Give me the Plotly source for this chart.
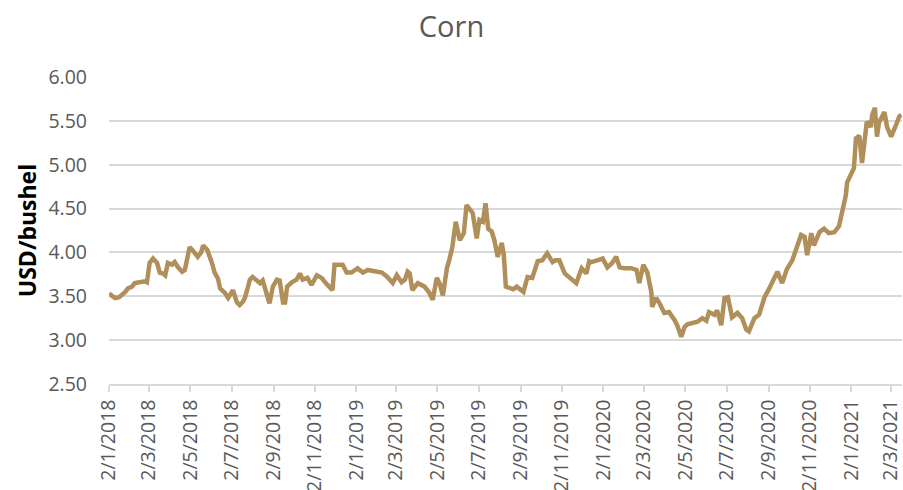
import plotly.graph_objects as go

# Corn price, USD per bushel
dates = [
    "2018-01-02", "2018-01-06", "2018-01-11", "2018-01-17", "2018-01-21", "2018-01-26", "2018-01-30",
    "2018-02-05", "2018-02-09", "2018-02-15", "2018-02-20", "2018-02-24", "2018-02-27",
    "2018-03-03", "2018-03-08", "2018-03-14", "2018-03-18", "2018-03-23", "2018-03-26", "2018-03-30",
    "2018-04-05", "2018-04-09", "2018-04-14", "2018-04-20", "2018-04-24", "2018-04-27",
    "2018-05-01", "2018-05-06", "2018-05-10", "2018-05-13", "2018-05-18", "2018-05-21", "2018-05-27", "2018-05-31",
    "2018-06-03", "2018-06-07", "2018-06-12", "2018-06-15", "2018-06-19", "2018-06-22", "2018-06-27",
    "2018-07-01", "2018-07-04", "2018-07-10", "2018-07-14", "2018-07-19", "2018-07-22", "2018-07-26", "2018-07-29",
    "2018-08-02", "2018-08-08", "2018-08-13", "2018-08-17", "2018-08-20", "2018-08-25", "2018-08-27",
    "2018-09-01", "2018-09-07", "2018-09-11", "2018-09-16", "2018-09-19", "2018-09-22", "2018-09-29",
    "2018-10-06", "2018-10-11", "2018-10-15", "2018-10-22", "2018-10-28",
    "2018-11-05", "2018-11-12", "2018-11-18", "2018-11-24", "2018-11-28",
    "2018-12-01", "2018-12-09", "2018-12-13", "2018-12-19", "2018-12-26",
    "2019-01-04", "2019-01-12", "2019-01-19", "2019-01-29",
    "2019-02-09", "2019-02-17", "2019-02-25",
    "2019-03-03", "2019-03-10", "2019-03-15", "2019-03-19", "2019-03-22", "2019-03-26",
    "2019-04-03", "2019-04-13", "2019-04-20", "2019-04-25",
    "2019-05-01", "2019-05-05", "2019-05-10", "2019-05-16", "2019-05-20", "2019-05-24", "2019-05-29",
    "2019-06-04", "2019-06-10", "2019-06-14", "2019-06-18", "2019-06-23", "2019-06-29",
    "2019-07-03", "2019-07-08", "2019-07-12", "2019-07-16", "2019-07-21", "2019-07-25", "2019-07-30",
    "2019-08-05", "2019-08-08", "2019-08-11", "2019-08-16", "2019-08-22", "2019-08-27", "2019-08-31",
    "2019-09-06", "2019-09-12", "2019-09-19", "2019-09-27",
    "2019-10-04", "2019-10-11", "2019-10-14", "2019-10-19", "2019-10-23", "2019-10-29",
    "2019-11-06", "2019-11-13", "2019-11-17", "2019-11-23",
    "2019-12-01", "2019-12-08", "2019-12-12", "2019-12-15", "2019-12-24",
    "2020-01-01", "2020-01-08", "2020-01-15", "2020-01-21", "2020-01-26",
    "2020-02-02", "2020-02-12", "2020-02-20", "2020-02-24",
    "2020-03-01", "2020-03-07", "2020-03-13", "2020-03-14", "2020-03-20", "2020-03-25",
    "2020-04-01", "2020-04-08", "2020-04-16", "2020-04-20", "2020-04-26",
    "2020-05-01", "2020-05-05", "2020-05-11", "2020-05-20", "2020-05-27",
    "2020-06-02", "2020-06-06", "2020-06-14", "2020-06-18", "2020-06-24", "2020-06-29",
    "2020-07-04", "2020-07-10", "2020-07-18", "2020-07-25", "2020-07-31",
    "2020-08-04", "2020-08-12", "2020-08-19", "2020-08-27",
    "2020-09-03", "2020-09-07", "2020-09-15", "2020-09-22", "2020-09-29",
    "2020-10-07", "2020-10-13", "2020-10-20", "2020-10-25", "2020-10-29",
    "2020-11-04", "2020-11-08", "2020-11-16", "2020-11-23", "2020-11-30",
    "2020-12-08", "2020-12-15", "2020-12-20", "2020-12-25", "2020-12-27",
    "2021-01-02", "2021-01-06", "2021-01-09", "2021-01-14", "2021-01-18", "2021-01-21", "2021-01-25", "2021-01-31",
    "2021-02-02", "2021-02-06", "2021-02-09", "2021-02-12", "2021-02-17", "2021-02-20", "2021-02-24",
    "2021-03-02", "2021-03-09", "2021-03-14", "2021-03-17",
]

prices = [
    3.53, 3.50, 3.48, 3.49, 3.51, 3.55, 3.59,
    3.61, 3.65, 3.66, 3.67, 3.67, 3.66,
    3.88, 3.93, 3.88, 3.77, 3.76, 3.74, 3.88,
    3.86, 3.89, 3.83, 3.78, 3.80, 3.89,
    4.06, 4.02, 3.98, 3.95, 4.00, 4.08, 4.03, 3.95,
    3.88, 3.77, 3.70, 3.59, 3.57, 3.54, 3.48,
    3.53, 3.57, 3.43, 3.40, 3.44, 3.49, 3.60, 3.69,
    3.72, 3.69, 3.65, 3.68, 3.61, 3.46, 3.42,
    3.61, 3.69, 3.68, 3.43, 3.43, 3.61, 3.66,
    3.69, 3.76, 3.69, 3.71, 3.63,
    3.74, 3.71, 3.65, 3.59, 3.57,
    3.86, 3.86, 3.86, 3.77, 3.77,
    3.82, 3.77, 3.80, 3.78,
    3.77, 3.72, 3.65,
    3.74, 3.66, 3.69, 3.78, 3.76, 3.57,
    3.65, 3.61, 3.54, 3.46,
    3.71, 3.65, 3.51, 3.82, 3.93, 4.06, 4.35,
    4.14, 4.22, 4.54, 4.50, 4.45, 4.16,
    4.37, 4.35, 4.56, 4.27, 4.24, 4.14, 3.95,
    4.11, 3.97, 3.61, 3.60, 3.58, 3.61, 3.59,
    3.55, 3.72, 3.71, 3.90,
    3.91, 3.99, 3.95, 3.89, 3.91, 3.91,
    3.76, 3.72, 3.70, 3.65,
    3.82, 3.76, 3.90, 3.89, 3.91,
    3.93, 3.83, 3.88, 3.95, 3.83,
    3.82, 3.82, 3.80, 3.65,
    3.86, 3.77, 3.54, 3.38, 3.48, 3.42,
    3.31, 3.32, 3.23, 3.17, 3.04,
    3.15, 3.18, 3.19, 3.21, 3.25,
    3.22, 3.32, 3.29, 3.34, 3.17, 3.48,
    3.49, 3.26, 3.31, 3.25, 3.12,
    3.10, 3.25, 3.29, 3.49,
    3.59, 3.66, 3.78, 3.65, 3.81,
    3.91, 4.05, 4.20, 4.18, 3.97,
    4.22, 4.08, 4.23, 4.27, 4.22,
    4.23, 4.30, 4.48, 4.65, 4.80,
    4.90, 4.96, 5.30, 5.33, 5.02, 5.20, 5.49, 5.43,
    5.57, 5.65, 5.32, 5.48, 5.57, 5.60, 5.43,
    5.32, 5.45, 5.55, 5.57,
]

tick_dates = [
    "2018-01-02", "2018-03-02", "2018-05-02", "2018-07-02", "2018-09-02", "2018-11-02",
    "2019-01-02", "2019-03-02", "2019-05-02", "2019-07-02", "2019-09-02", "2019-11-02",
    "2020-01-02", "2020-03-02", "2020-05-02", "2020-07-02", "2020-09-02", "2020-11-02",
    "2021-01-02", "2021-03-02",
]
tick_labels = [
    "2/1/2018", "2/3/2018", "2/5/2018", "2/7/2018", "2/9/2018", "2/11/2018",
    "2/1/2019", "2/3/2019", "2/5/2019", "2/7/2019", "2/9/2019", "2/11/2019",
    "2/1/2020", "2/3/2020", "2/5/2020", "2/7/2020", "2/9/2020", "2/11/2020",
    "2/1/2021", "2/3/2021",
]

y_ticks = [2.5, 3.0, 3.5, 4.0, 4.5, 5.0, 5.5, 6.0]

GREY = "#595959"
GRID = "#D9D9D9"
FONT = "Open Sans"

fig = go.Figure(
    go.Scatter(
        x=dates,
        y=prices,
        mode="lines",
        line=dict(color="#B08F5A", width=4.5),
        showlegend=False,
        hoverinfo="x+y",
    )
)

fig.update_layout(
    width=903,
    height=490,
    margin=dict(l=109, r=1, t=77, b=106),
    paper_bgcolor="white",
    plot_bgcolor="white",
    font=dict(family=FONT, color=GREY),
    title=dict(
        text="Corn",
        x=0.5,
        xanchor="center",
        y=0.945,
        yanchor="middle",
        font=dict(family=FONT, size=29, color=GREY),
    ),
    xaxis=dict(
        type="date",
        range=["2018-01-02", "2021-03-18"],
        tickmode="array",
        tickvals=tick_dates,
        ticktext=tick_labels,
        tickangle=-90,
        tickfont=dict(family=FONT, size=19.5, color=GREY),
        ticklabeloverflow="allow",
        showgrid=False,
        showline=True,
        linecolor=GRID,
        linewidth=1.5,
        ticks="outside",
        ticklen=6,
        tickcolor=GRID,
        tickwidth=1.5,
        zeroline=False,
        automargin=False,
    ),
    yaxis=dict(
        range=[2.5, 6.0],
        tickmode="array",
        tickvals=y_ticks,
        tickformat=".2f",
        tickfont=dict(family=FONT, size=19.5, color=GREY),
        showgrid=True,
        gridcolor=GRID,
        gridwidth=1.5,
        zeroline=False,
        showline=False,
        ticks="",
        ticklabelstandoff=21,
        title=dict(
            text="<b>USD/bushel</b>",
            font=dict(family=FONT, size=23, color="black"),
            standoff=5,
        ),
        automargin=False,
    ),
)

fig.write_html("out.html")
